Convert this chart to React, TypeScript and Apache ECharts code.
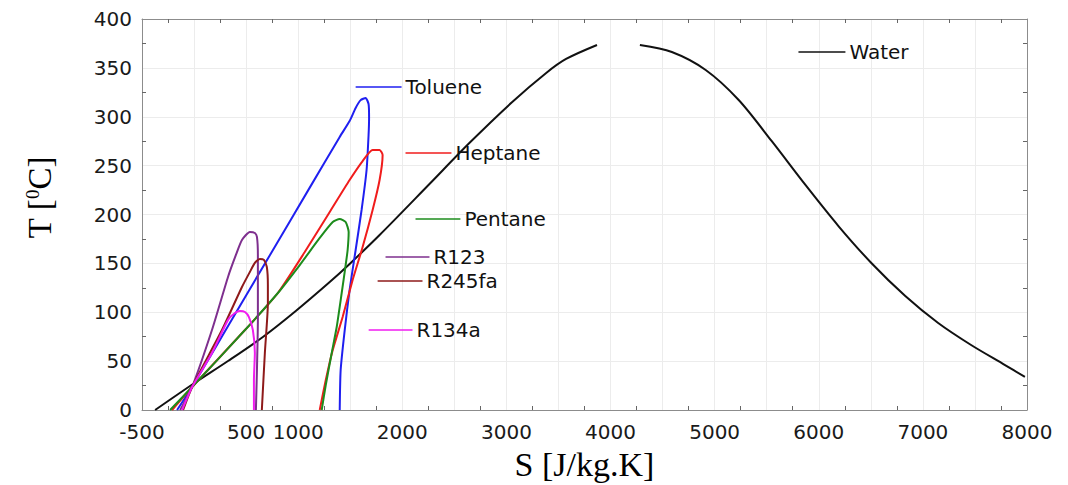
import React, { useEffect, useRef } from 'react';
import * as echarts from 'echarts';

// Tick label values shown on the S axis
const xLabelValues = [-500, 500, 1000, 2000, 3000, 4000, 5000, 6000, 7000, 8000];

// Saturation curves [S (J/kg.K), T (°C)]
const waterLiquid = [
  [-374, 0], [-10, 26.6], [326, 50.1], [661, 74.7], [977, 101.3], [1303, 130.9], [1494, 149.4],
  [1782, 179], [2261, 231.2], [2644, 273.1], [3056, 315.1], [3382, 344.8], [3573, 359.1], [3870, 373.4],
];
const waterVapor = [
  [4282, 373.4], [4589, 366.2], [4914, 347.8], [5231, 317.1], [5547, 275.2], [5872, 230.2],
  [6189, 188.2], [6505, 150.4], [6831, 116.6], [7147, 89], [7463, 66.5], [7789, 46], [7980, 33.8],
];
const toluene = [
  [-163, 0], [-19, 23.5], [345, 89.2], [728, 158.4], [1111, 227.5], [1399, 279.4], [1494, 295.6],
  [1552, 309], [1600, 317], [1648, 319.2], [1676, 313], [1681, 299], [1676, 281], [1657, 245.5],
  [1609, 204.6], [1552, 163.7], [1494, 122.8], [1447, 81.8], [1408, 40.9], [1399, 0],
];
const heptane = [
  [-211, 0], [-19, 23.5], [489, 81.8], [805, 119.7], [1063, 161.6], [1303, 202.6], [1494, 235.3],
  [1619, 254.7], [1715, 266], [1782, 266], [1811, 260.9], [1782, 235.3], [1715, 204.6],
  [1619, 166.7], [1523, 133], [1427, 95.1], [1332, 61.4], [1265, 30.7], [1207, 0],
];
const pentane = [
  [-230, 0], [-19, 23.5], [489, 81.8], [805, 119.7], [1015, 148.3], [1207, 176], [1332, 192.3],
  [1399, 195.4], [1456, 192.3], [1485, 182.1], [1475, 163.7], [1456, 148.3], [1418, 119.7],
  [1370, 84.9], [1322, 58.3], [1265, 25.6], [1226, 0],
];
const r123 = [
  [-134, 0], [-19, 23.5], [172, 81.8], [326, 136.1], [402, 158.6], [460, 173.9], [536, 182.1],
  [584, 181.1], [604, 177], [613, 158.6], [613, 143.2], [613, 92.1], [604, 40.9], [594, 0],
];
const r245fa = [
  [-105, 0], [-19, 23.5], [268, 81.8], [460, 125.8], [536, 141.2], [584, 150.4], [632, 154.5],
  [671, 153.5], [699, 146.3], [709, 127.9], [709, 109.5], [680, 58.3], [651, 0],
];
const r134a = [
  [-115, 0], [-19, 23.5], [172, 58.3], [326, 92.1], [393, 99.2], [441, 101.3], [489, 100.3],
  [527, 95.1], [565, 81.8], [584, 58.3], [575, 30.7], [575, 0],
];

const fluidNames = ['Toluene', 'Heptane', 'Pentane', 'R123', 'R245fa', 'R134a', 'Water'];
const fluidColors = ['#1f1ff0', '#f01c1c', '#1c8c1c', '#7e2f8e', '#8e1a1a', '#f01cf0', '#111111'];
const fluidCurves = [toluene, heptane, pentane, r123, r245fa, r134a];

// Inline legend keys: [S start, S end, T]
const legendKeys = [
  [1552, 1993, 330.4],
  [2031, 2472, 262.9],
  [2127, 2558, 195.4],
  [1839, 2261, 156.5],
  [1763, 2194, 132],
  [1677, 2098, 81.8],
  [5805, 6256, 366.2],
];

const AXIS_GRAY = '#8c8c8c';
const GRID_GRAY = '#ececec';
const SANS = 'DejaVu Sans';
const SERIF = 'Liberation Serif';

export default function App() {
  const ref = useRef<HTMLDivElement>(null);

  useEffect(() => {
    if (!ref.current) return;
    const chart = echarts.init(ref.current, null, { renderer: 'svg' });

    const xBase = {
      type: 'value',
      min: -500,
      max: 8000,
      interval: 500,
      axisLine: { show: true, onZero: false, lineStyle: { color: AXIS_GRAY, width: 1 } },
      axisTick: { show: false, inside: true },
      minorTick: { show: true, splitNumber: 2, length: 4, lineStyle: { color: '#666', width: 1 } },
    };
    const yBase = {
      type: 'value',
      min: 0,
      max: 400,
      interval: 50,
      axisLine: { show: true, onZero: false, lineStyle: { color: AXIS_GRAY, width: 1 } },
      axisTick: { show: false, inside: true },
      minorTick: { show: true, splitNumber: 2, length: 4, lineStyle: { color: '#666', width: 1 } },
    };

    const curveSeries: any[] = fluidCurves.map((d, i) => ({
      type: 'line',
      name: fluidNames[i],
      data: d,
      xAxisIndex: 0,
      yAxisIndex: 0,
      showSymbol: false,
      symbol: 'none',
      smooth: 0.2,
      lineStyle: { color: fluidColors[i], width: 2 },
      z: 3,
    }));
    [waterLiquid, waterVapor].forEach((d) => {
      curveSeries.push({
        type: 'line',
        name: 'Water',
        data: d,
        xAxisIndex: 0,
        yAxisIndex: 0,
        showSymbol: false,
        symbol: 'none',
        smooth: 0.3,
        lineStyle: { color: '#111111', width: 2 },
        z: 2,
      });
    });
    const keySeries = legendKeys.map((k, i) => ({
      type: 'line',
      name: fluidNames[i] + ' key',
      data: [[k[0], k[2]], [k[1], k[2]]],
      xAxisIndex: 0,
      yAxisIndex: 0,
      showSymbol: false,
      symbol: 'none',
      lineStyle: { color: fluidColors[i], width: 1.6 },
      endLabel: {
        show: true,
        formatter: () => fluidNames[i],
        color: '#111',
        fontFamily: SANS,
        fontSize: 20,
        distance: 4,
      },
      z: 4,
    }));

    chart.setOption({
      animation: false,
      backgroundColor: '#ffffff',
      grid: { left: 142, right: 41, top: 19, bottom: 75, outerBoundsMode: 'none' },
      xAxis: [
        {
          ...xBase,
          position: 'bottom',
          axisLabel: {
            customValues: xLabelValues,
            formatter: (v: number) => String(v),
            color: '#1a1a1a',
            fontFamily: SANS,
            fontSize: 20,
            margin: 12,
          },
          splitLine: { show: true, lineStyle: { color: GRID_GRAY, width: 1 } },
          name: 'S [J/kg.K]',
          nameLocation: 'middle',
          nameGap: 37,
          nameTextStyle: { fontFamily: SERIF, fontSize: 34, color: '#000' },
        },
        {
          ...xBase,
          position: 'top',
          axisLabel: { show: false },
          splitLine: { show: false },
        },
      ],
      yAxis: [
        {
          ...yBase,
          position: 'left',
          axisLabel: { color: '#1a1a1a', fontFamily: SANS, fontSize: 20, margin: 10 },
          splitLine: { show: true, lineStyle: { color: GRID_GRAY, width: 1 } },
          name: '{t|T [}{sup|0}{t|C]}',
          nameLocation: 'middle',
          nameRotate: 90,
          nameGap: 86,
          nameTextStyle: {
            fontFamily: SERIF,
            fontSize: 33,
            color: '#000',
            padding: [0, 0, 0, 34],
            rich: {
              t: { fontFamily: SERIF, fontSize: 33, color: '#000' },
              sup: { fontFamily: SERIF, fontSize: 19, color: '#000', verticalAlign: 'top' },
            },
          },
        },
        {
          ...yBase,
          position: 'right',
          axisLabel: { show: false },
          splitLine: { show: false },
        },
      ],
      series: [...curveSeries, ...keySeries],
    });

    return () => chart.dispose();
  }, []);

  return (
    <div
      ref={ref}
      style={{ position: 'fixed', left: 0, top: 0, width: 1068, height: 485, background: '#fff' }}
    />
  );
}
